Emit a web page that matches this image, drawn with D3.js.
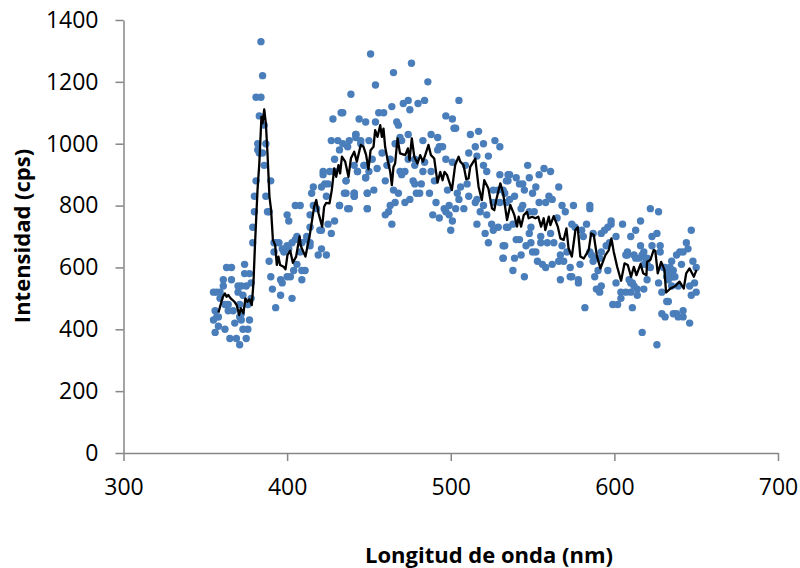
<!DOCTYPE html>
<html>

<head>
    <meta charset="utf-8">
    <title>Intensidad vs longitud de onda</title>
    <script src="https://d3js.org/d3.v7.min.js"></script>
    <style>
        html, body { margin: 0; padding: 0; background: #fff; }
        svg { display: block; }
        text { font-family: "Open Sans", sans-serif; fill: #000; }
    </style>
</head>

<body>
    <div id="chart"></div>
    <script>
        var wavelengths = [
            355,357,359,356,358,355,357,358,356,362,365,369,371,375,373,376,377,372,368,371,372,364,367,362,364,371,376,373,370,359,361,361,363,366,366,370,372,375,378,374,377,374,378,
            384,385,381,384,383,386,382,387,382,383,385,386,381,390,380,387,380,388,389,379,379,
            389,390,391,393,396,396,397,400,402,403,404,406,409,409,411,392,393,395,398,399,401,403,406,409,412,414,414,419,421,424,427,429,420,421,400,401,405,408,414,416,415,421,423,425,422,422,424,425,432,437,435,441,441,449,449,
            428,433,439,444,448,427,431,438,442,432,434,429,426,429,436,443,448,445,447,
            451,476,465,454,486,505,471,474,480,484,464,475,456,459,434,454,467,468,497,501,
            502,503,512,517,488,492,527,530,520,515,511,516,523,474,469,483,442,442,445,450,
            437,466,470,458,452,463,493,495,492,497,501,484,478,474,447,441,461,455,478,483,
            488,443,450,469,472,470,448,436,460,477,482,478,490,509,520,522,530,535,534,506,
            510,498,504,505,511,516,515,520,508,503,518,522,526,529,532,526,530,534,516,525,
            529,526,521,523,532,532,534,465,468,453,449,441,441,436,432,438,449,475,472,466,
            463,462,460,464,479,481,487,491,489,493,496,499,497,499,501,500,
            547,557,561,554,536,540,548,535,542,544,566,552,545,550,533,539,536,560,562,558,
            554,568,570,575,585,585,544,543,551,548,622,627,616,613,610,598,598,605,583,574,
            576,596,594,601,565,535,538,549,548,555,580,581,587,592,561,540,542,555,559,563,
            568,533,546,549,550,552,532,539,543,553,556,558,562,566,569,567,571,579,573,538,
            545,573,574,567,578,578,592,586,590,588,596,601,592,589,591,582,604,607,610,604,
            602,599,611,614,618,614,610,617,626,632,633,629,631,636,638,642,639,642,646,629,
            647,650,620,627,646,649,641,650,648,638,640,642,645,644,647,623,626,616,623,628,
            628,608,607,612,615,618,619,620,630,632,635,636,634,636,
            // zonas densas
            392,397,400,405,412,408,414,416,418,631,634,632,635,637,633,635,639,608,613,617,620,618,622,
            585,588,591,587,595,597,609,611,612
        ];
        var intensities = [
            520,520,520,460,440,430,440,410,390,400,370,370,350,370,400,400,430,430,420,440,450,460,460,480,480,480,480,510,520,500,540,560,600,600,560,540,540,540,550,580,580,610,500,
            1330,1220,1150,1150,1090,1060,1000,1000,980,970,970,930,880,880,830,830,780,780,780,730,680,
            620,570,530,470,510,560,550,570,570,500,590,610,560,590,590,650,680,680,650,660,660,680,700,680,690,680,730,640,660,640,710,750,720,720,770,750,800,800,770,860,840,860,870,870,910,900,830,740,800,790,840,840,830,840,790,
            1080,1100,1160,1080,1070,1010,1010,1010,1030,980,1000,950,910,910,880,910,890,1000,930,
            1290,1260,1230,1190,1200,1140,1130,1140,1130,1140,1120,1110,1100,1100,1100,1070,1070,1060,1090,1080,
            1050,1050,1030,1040,1030,1020,1010,990,1000,990,970,960,960,1030,1020,1010,1030,1020,1010,1010,
            990,1000,1010,970,950,950,990,990,980,950,940,940,950,950,930,930,930,920,930,910,
            910,910,910,910,910,900,890,880,880,880,870,870,880,930,930,910,900,900,880,860,
            870,850,840,820,830,820,810,800,790,790,780,770,850,850,850,810,810,810,740,740,
            730,720,710,680,670,630,730,850,840,850,840,840,830,840,800,790,790,820,810,810,
            800,780,770,740,840,840,840,810,770,760,790,800,780,770,750,720,
            930,920,910,900,900,890,890,880,870,870,860,860,850,840,840,830,820,830,820,810,
            810,800,780,800,800,790,800,790,780,780,790,780,750,720,700,750,740,740,740,740,
            730,730,720,700,760,730,740,730,710,700,720,700,710,710,710,690,690,680,680,680,
            670,670,670,680,650,650,630,630,640,620,610,600,610,620,620,640,650,610,600,590,
            570,570,570,560,560,550,650,640,590,570,590,550,540,530,520,470,520,520,520,500,
            480,480,470,510,530,530,550,390,350,490,490,450,440,450,450,460,440,440,420,520,
            510,520,560,550,540,550,610,600,620,640,650,650,660,680,720,700,710,670,670,670,
            650,650,640,640,630,650,630,610,600,590,620,590,580,570,
            // zonas densas
            680,660,670,690,700,650,670,800,790,600,600,570,570,570,560,540,540,640,630,640,630,610,600,
            650,630,630,620,670,680,560,550,540
        ];

        // curva suavizada
        var smoothX = [
            358,359,360.7,362,363,364,365.5,367.8,369.2,370.7,371.7,373.3,374.5,375.7,377,378.4,379.4,380.4,381.9,383,
            384.3,385,386,387,388,389.2,390.2,391.3,392.7,393.7,394.7,395.7,397.8,399,400.2,401.9,403.5,405.5,407.6,408.4,
            411.2,414,416.5,417.8,419.2,421.4,422.6,423.9,425.9,427.3,428.8,430,431.4,432.4,433.5,435.5,437.5,439,441,442.6,
            445,446.7,448.3,449.7,451,452.8,453.8,455.2,456.9,457.9,458.9,459.9,461.4,463,464,465,466,467.5,469,472.2,
            473.8,474.8,476.2,477.7,479.7,481.3,483,484.4,486.4,487.9,489.9,491.9,493.6,495,496.2,497.7,500.7,502.7,504.8,505.8,
            507.8,509.5,510.9,511.9,515,517,519,520.5,523,525.2,526.6,527.8,530.3,532,534.4,536.4,538.9,540.5,541.5,543,
            544.6,546.6,547.6,549.7,551.7,553.5,555.2,556.8,557.8,559.9,560.9,562.9,565.4,567,569,570.7,572,574,576.2,577.6,
            579.2,581.3,584.3,585.8,587.4,589.4,591.5,594.5,596.6,598.2,599.6,601.7,604.1,606.2,608.2,610.2,611.9,613.5,616,617.6,
            619.6,620,622,624,625,626.5,628.6,630.6,631.6,634.3,637.3,639.8,642.4,643.9,645.9,648.6,650.2
        ];
        var smoothY = [
            454,473,505,516,505,511,500,489,478,446,468,452,500,489,497,478,548,678,850,936,
            1087,1066,1111,1066,969,829,786,689,672,608,635,608,602,594,640,654,615,635,700,669,
            635,710,796,818,775,732,796,809,807,850,920,893,931,904,958,942,893,953,974,942,
            996,990,963,917,979,990,1044,1022,1060,1022,1049,990,947,909,866,925,936,1017,969,963,
            985,947,1017,958,936,963,942,963,996,963,952,874,909,882,909,899,850,931,958,942,
            931,885,888,925,952,861,818,882,855,791,785,818,872,840,753,802,769,732,764,732,
            769,780,759,764,759,764,732,759,721,764,737,766,732,694,689,726,662,635,721,730,
            635,629,656,710,705,635,597,640,656,694,651,602,557,613,608,570,602,575,611,581,
            575,618,624,656,654,581,618,592,519,532,540,554,532,581,597,570,592
        ];

        var xTicks = [300, 400, 500, 600, 700];
        var yTicks = [0, 200, 400, 600, 800, 1000, 1200, 1400];

        var width = 800, height = 568;

        var x = d3.scaleLinear().domain([300, 700]).range([123.5, 778]);
        var y = d3.scaleLinear().domain([0, 1400]).range([453, 20]);

        var svg = d3.select("#chart")
            .append("svg")
            .attr("width", width)
            .attr("height", height);

        var xAxis = svg.append("g")
            .attr("transform", "translate(0,453)")
            .call(d3.axisBottom(x).tickValues(xTicks).tickSize(8).tickSizeOuter(0).tickPadding(18).tickFormat(d3.format("d")));

        var yAxis = svg.append("g")
            .attr("transform", "translate(123.5,0)")
            .call(d3.axisLeft(y).tickValues(yTicks).tickSize(8).tickSizeOuter(0).tickPadding(17).tickFormat(d3.format("d")));

        svg.selectAll(".domain, .tick line")
            .attr("stroke", "#868686")
            .attr("stroke-width", 1.5);
        svg.selectAll(".tick text")
            .attr("font-family", "'Open Sans', sans-serif")
            .attr("font-size", 23)
            .attr("fill", "#000");

        // puntos
        svg.append("g")
            .selectAll("circle")
            .data(d3.zip(wavelengths, intensities))
            .enter()
            .append("circle")
            .attr("cx", function (d) { return x(d[0]); })
            .attr("cy", function (d) { return y(d[1]); })
            .attr("r", 3.7)
            .attr("fill", "#4a7ebb");

        // linea
        var line = d3.line()
            .x(function (d) { return x(d[0]); })
            .y(function (d) { return y(d[1]); });

        svg.append("path")
            .datum(d3.zip(smoothX, smoothY))
            .attr("d", line)
            .attr("fill", "none")
            .attr("stroke", "#000")
            .attr("stroke-width", 2.3)
            .attr("stroke-linejoin", "round");

        // titulos de ejes
        svg.append("text")
            .attr("x", 489)
            .attr("y", 563)
            .attr("text-anchor", "middle")
            .attr("font-size", 22)
            .attr("font-weight", "bold")
            .text("Longitud de onda (nm)");

        svg.append("text")
            .attr("transform", "translate(30,236) rotate(-90)")
            .attr("text-anchor", "middle")
            .attr("font-size", 22)
            .attr("font-weight", "bold")
            .text("Intensidad (cps)");
    </script>
</body>

</html>
